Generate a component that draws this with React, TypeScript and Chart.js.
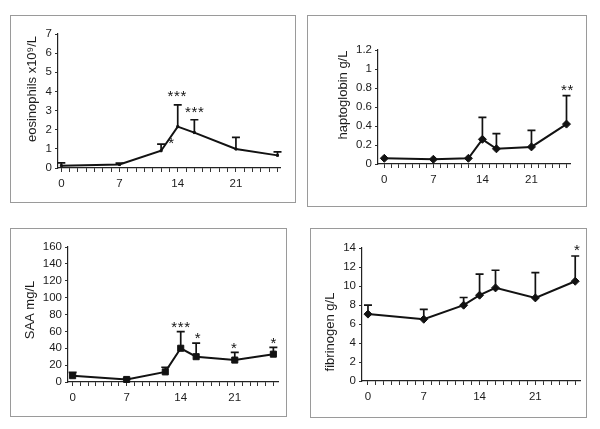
import React, { useEffect, useRef } from 'react';
import { Chart, registerables } from 'chart.js';

Chart.register(...registerables);

// ---------- data ----------
const days = [0, 7, 12, 14, 16, 21, 26];
const xTickLabels = [0, 7, 14, 21];

const eosValues = [0.12, 0.18, 0.9, 2.16, 1.85, 0.99, 0.66];
const eosUpper = [0.27, 0.25, 1.25, 3.3, 2.52, 1.6, 0.84];
const eosStarText = ['***', '***', '*'];
const eosStarDay = [13.9, 16.0, 13.2];
const eosStarY = [3.95, 3.12, 1.5];

const haptoValues = [0.06, 0.05, 0.06, 0.26, 0.16, 0.18, 0.42];
const haptoUpper = [0.06, 0.05, 0.06, 0.49, 0.32, 0.355, 0.72];
const haptoStarText = ['**'];
const haptoStarDay = [26.1];
const haptoStarY = [0.81];

const saaValues = [7.5, 3, 12, 40, 30, 26, 33];
const saaUpper = [11.5, 4, 17.5, 59.6, 46, 35, 41];
const saaStarText = ['***', '*', '*', '*'];
const saaStarDay = [14, 16.2, 20.9, 26];
const saaStarY = [69.5, 56.5, 44.7, 50.6];

const fibValues = [7.04, 6.5, 7.98, 9.03, 9.8, 8.75, 10.5];
const fibUpper = [7.98, 7.53, 8.79, 11.24, 11.66, 11.41, 13.16];
const fibStarText = ['*'];
const fibStarDay = [26.2];
const fibStarY = [14.2];

// ---------- layout / style ----------
const FONT = '"Liberation Sans", Arial, sans-serif';
const INK = '#121212';

type Panel = {
  box: { l: number; t: number; r: number; b: number };
  plot: { l: number; t: number; r: number; b: number };
  xMin: number;
  xMax: number;
  yMax: number;
  yStep: number;
  title: string;
  titleX: number;
  titleY: number;
  values: number[];
  upper: number[];
  starText: string[];
  starDay: number[];
  starY: number[];
  pointStyle: string;
  pointRadius: number;
};

const panels: Panel[] = [
  {
    box: { l: 10, t: 15, r: 296, b: 203 },
    plot: { l: 58, t: 34, r: 280, b: 168 },
    xMin: -0.4, xMax: 26.3, yMax: 7, yStep: 1,
    title: 'eosinophils x10\u2079/L', titleX: 32, titleY: 89,
    values: eosValues, upper: eosUpper,
    starText: eosStarText, starDay: eosStarDay, starY: eosStarY,
    pointStyle: 'rect', pointRadius: 1.4,
  },
  {
    box: { l: 307, t: 15, r: 587, b: 207 },
    plot: { l: 378, t: 50, r: 570, b: 164 },
    xMin: -0.9, xMax: 26.5, yMax: 1.2, yStep: 0.2,
    title: 'haptoglobin g/L', titleX: 343, titleY: 95,
    values: haptoValues, upper: haptoUpper,
    starText: haptoStarText, starDay: haptoStarDay, starY: haptoStarY,
    pointStyle: 'rectRot', pointRadius: 4,
  },
  {
    box: { l: 10, t: 228, r: 287, b: 417 },
    plot: { l: 68, t: 247, r: 278, b: 382 },
    xMin: -0.6, xMax: 26.6, yMax: 160, yStep: 20,
    title: 'SAA mg/L', titleX: 30, titleY: 310,
    values: saaValues, upper: saaUpper,
    starText: saaStarText, starDay: saaStarDay, starY: saaStarY,
    pointStyle: 'rect', pointRadius: 4.3,
  },
  {
    box: { l: 310, t: 228, r: 587, b: 418 },
    plot: { l: 362, t: 248, r: 580, b: 381 },
    xMin: -0.75, xMax: 26.6, yMax: 14, yStep: 2,
    title: 'fibrinogen g/L', titleX: 330, titleY: 332,
    values: fibValues, upper: fibUpper,
    starText: fibStarText, starDay: fibStarDay, starY: fibStarY,
    pointStyle: 'rectRot', pointRadius: 4,
  },
];

function PanelChart({ p }: { p: Panel }) {
  const ref = useRef<HTMLCanvasElement | null>(null);
  const w = p.box.r - p.box.l;
  const h = p.box.b - p.box.t;

  useEffect(() => {
    if (!ref.current) return;
    const overlay = {
      id: 'overlay',
      beforeDatasetsDraw(chart: any) {
        const ctx = chart.ctx;
        const xs = chart.scales.x;
        const ys = chart.scales.y;
        ctx.save();
        ctx.strokeStyle = INK;
        ctx.lineWidth = 1.7;
        days.forEach((d, i) => {
          if (p.upper[i] <= p.values[i]) return;
          const x = xs.getPixelForValue(d);
          const y0 = ys.getPixelForValue(p.values[i]);
          const y1 = ys.getPixelForValue(p.upper[i]);
          ctx.beginPath();
          ctx.moveTo(x, y0);
          ctx.lineTo(x, y1);
          ctx.moveTo(x - 4, y1);
          ctx.lineTo(x + 4, y1);
          ctx.stroke();
        });
        ctx.restore();
      },
      afterDraw(chart: any) {
        const ctx = chart.ctx;
        const xs = chart.scales.x;
        const ys = chart.scales.y;
        ctx.save();
        ctx.fillStyle = INK;
        ctx.font = `15px ${FONT}`;
        ctx.textAlign = 'center';
        ctx.textBaseline = 'alphabetic';
        p.starText.forEach((s, k) => {
          const cx = xs.getPixelForValue(p.starDay[k]);
          const cy = ys.getPixelForValue(p.starY[k]);
          const n = s.length;
          for (let i = 0; i < n; i++) {
            const x = cx + (i - (n - 1) / 2) * 6.5;
            ctx.fillText('*', x, cy + 0.56 * 15);
          }
        });
        // y-axis title
        ctx.font = `13px ${FONT}`;
        ctx.fillStyle = '#1c1c1c';
        ctx.translate(p.titleX - p.box.l, p.titleY - p.box.t);
        ctx.rotate(-Math.PI / 2);
        ctx.textAlign = 'center';
        ctx.textBaseline = 'middle';
        ctx.fillText(p.title, 0, 0);
        ctx.restore();
      },
    };

    const tickFont = { family: FONT, size: 11.5 };
    const chart = new Chart(ref.current, {
      type: 'line',
      data: {
        datasets: [
          {
            data: days.map((d, i) => ({ x: d, y: p.values[i] })),
            borderColor: INK,
            borderWidth: 2,
            pointStyle: p.pointStyle as any,
            pointRadius: p.pointRadius,
            pointBackgroundColor: INK,
            pointBorderColor: INK,
            pointBorderWidth: 1,
            tension: 0,
            clip: false as any,
          },
        ],
      },
      options: {
        animation: false,
        responsive: false,
        maintainAspectRatio: false,
        devicePixelRatio: 1,
        layout: {
          padding: { left: 0, top: p.plot.t - p.box.t, right: p.box.r - p.plot.r, bottom: 0 },
        },
        plugins: { legend: { display: false }, tooltip: { enabled: false } },
        scales: {
          x: {
            type: 'linear',
            min: p.xMin,
            max: p.xMax,
            afterBuildTicks: (s: any) => {
              const t: { value: number }[] = [];
              for (let v = Math.ceil(p.xMin); v <= Math.floor(p.xMax); v++) t.push({ value: v });
              s.ticks = t;
            },
            afterFit: (s: any) => {
              s.height = p.box.b - p.plot.b;
            },
            ticks: {
              autoSkip: false,
              maxRotation: 0,
              minRotation: 0,
              padding: 5,
              color: '#1c1c1c',
              font: tickFont,
              callback: (v: any) => (xTickLabels.includes(Number(v)) ? String(v) : ''),
            },
            grid: { display: true, drawOnChartArea: false, drawTicks: true, tickLength: 4, color: '#333', lineWidth: 1 },
            border: { display: true, color: '#222', width: 1.2 },
          },
          y: {
            type: 'linear',
            min: 0,
            max: p.yMax,
            afterFit: (s: any) => {
              s.width = p.plot.l - p.box.l;
            },
            ticks: {
              stepSize: p.yStep,
              padding: 3,
              color: '#1c1c1c',
              font: tickFont,
              callback: (v: any) => String(Number(Number(v).toFixed(1))),
            },
            grid: { display: true, drawOnChartArea: false, drawTicks: true, tickLength: 3, color: '#333', lineWidth: 1 },
            border: { display: true, color: '#222', width: 1.2 },
          },
        },
      },
      plugins: [overlay],
    } as any);
    return () => chart.destroy();
  }, []);

  return (
    <>
      <div
        style={{
          position: 'absolute',
          left: p.box.l,
          top: p.box.t,
          width: w,
          height: h,
          border: '1px solid #9a9a9a',
          boxSizing: 'border-box',
        }}
      />
      <canvas
        ref={ref}
        width={w}
        height={h}
        style={{ position: 'absolute', left: p.box.l, top: p.box.t, width: w, height: h }}
      />
    </>
  );
}

export default function App() {
  return (
    <div style={{ position: 'absolute', left: 0, top: 0, width: 600, height: 429, background: '#fff' }}>
      {panels.map((p, i) => (
        <PanelChart key={i} p={p} />
      ))}
    </div>
  );
}
